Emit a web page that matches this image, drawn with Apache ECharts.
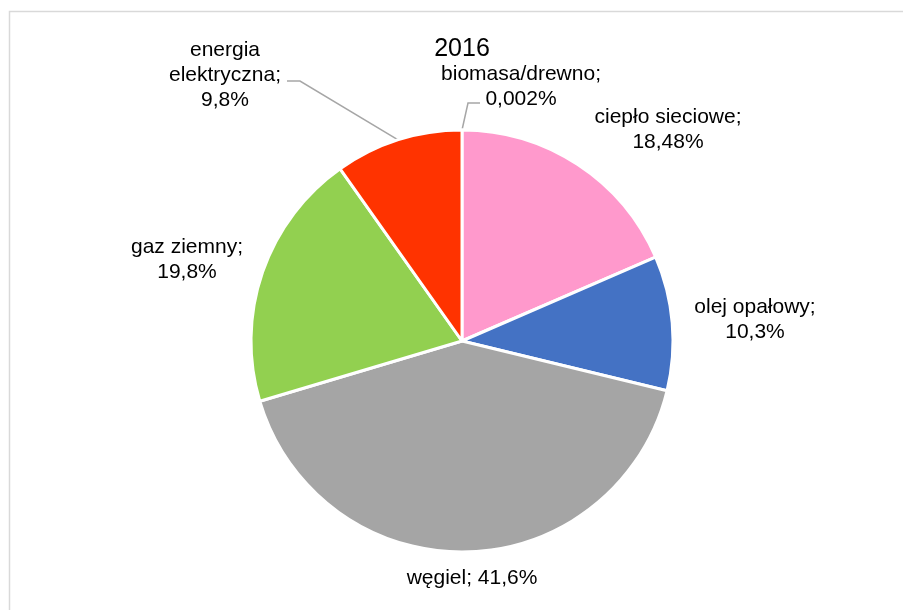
<!DOCTYPE html>
<html>
<head>
<meta charset="utf-8">
<script src="https://cdn.jsdelivr.net/npm/echarts@6/dist/echarts.min.js"></script>
<style>
  html, body { margin: 0; padding: 0; background: #fff; }
  #chart { width: 903px; height: 610px; }
</style>
</head>
<body>
<div id="chart"></div>
<script>
// dane - udziały nośników energii (2016)
const kategorie = ['biomasa/drewno', 'ciepło sieciowe', 'olej opałowy', 'węgiel', 'gaz ziemny', 'energia\nelektryczna'];
const udzialy = [0.002, 18.48, 10.3, 41.6, 19.8, 9.8];
const kolory = ['#FF99CC', '#FF99CC', '#4472C4', '#A5A5A5', '#92D050', '#FF3300'];
const tytul = '2016';

// pozycje etykiet (środek tekstu, px)
const pozycjeEtykiet = [
    [521, 87],
    [668, 130],
    [755, 320],
    [472, 578],
    [187, 260],
    [225, 75]
];
// linie odniesienia: przesunięcia [koniec, załamanie] względem środka etykiety
const linieOdniesienia = [
    [[-41, 16], [-53, 16]],
    null, null, null, null,
    [[62, 6], [75, 6]]
];

const myChart = echarts.init(document.getElementById('chart'), null, { renderer: 'canvas' });

const dane = kategorie.map((k, i) => ({
    name: k,
    value: udzialy[i],
    itemStyle: { color: kolory[i] },
    labelLine: { show: !!linieOdniesienia[i] }
}));

const option = {
    backgroundColor: '#fff',
    animation: false,
    title: {
        text: tytul,
        left: 457,
        top: 32,
        textAlign: 'center',
        textStyle: { fontFamily: 'Liberation Sans', fontSize: 25, fontWeight: 'normal', color: '#000' }
    },
    graphic: [{
        type: 'rect',
        shape: { x: 9.5, y: 11.5, width: 1000, height: 1000 },
        style: { fill: 'none', stroke: '#D9D9D9', lineWidth: 1.5 },
        silent: true
    }],
    series: [{
        type: 'pie',
        center: [462, 341],
        radius: 211,
        startAngle: 90,
        clockwise: true,
        avoidLabelOverlap: false,
        minAngle: 0,
        itemStyle: { borderColor: '#fff', borderWidth: 3 },
        label: {
            show: true,
            position: 'outside',
            fontFamily: 'Liberation Sans',
            fontSize: 21,
            lineHeight: 25,
            color: '#000',
            align: 'center',
            formatter: function (p) {
                const wartosc = String(p.value).replace('.', ',') + '%';
                const sep = p.name === 'węgiel' ? '; ' : ';\n';
                return p.name + sep + wartosc;
            }
        },
        labelLine: {
            length: 20,
            length2: 12,
            lineStyle: { color: '#A6A6A6', width: 1.5 }
        },
        labelLayout: function (params) {
            const i = params.dataIndex;
            const poz = pozycjeEtykiet[i];
            const out = {
                x: poz[0],
                y: poz[1],
                align: 'center',
                verticalAlign: 'middle'
            };
            const l = linieOdniesienia[i];
            if (l && params.labelLinePoints) {
                const start = params.labelLinePoints[0];
                out.labelLinePoints = [
                    start,
                    [poz[0] + l[1][0], poz[1] + l[1][1]],
                    [poz[0] + l[0][0], poz[1] + l[0][1]]
                ];
            }
            return out;
        },
        emphasis: { disabled: true },
        data: dane
    }]
};

myChart.setOption(option);
</script>
</body>
</html>
